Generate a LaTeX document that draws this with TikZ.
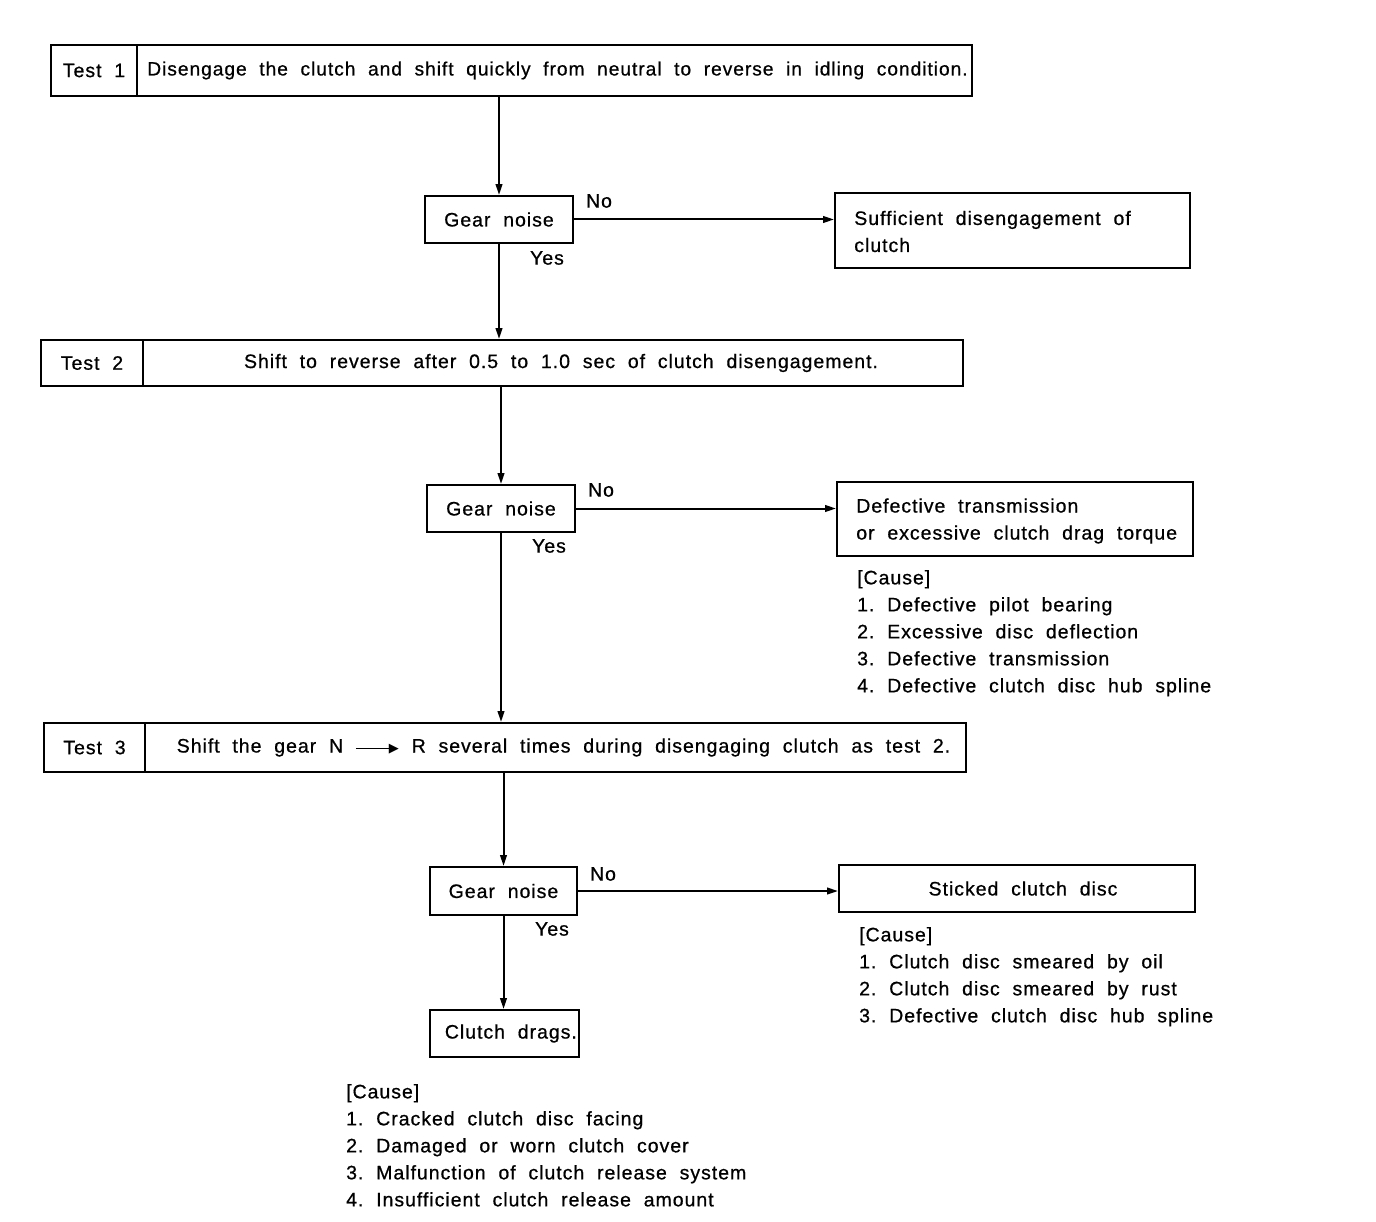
\documentclass[tikz,border=0pt]{standalone}
\usepackage{fontspec}
\setmainfont{Liberation Sans}[LetterSpace=5,WordSpace=2.0,FakeBold=0.7]
\newfontfamily\dejavu{DejaVu Sans}
\usetikzlibrary{arrows.meta}
\begin{document}
\begin{tikzpicture}[x=1pt,y=-1pt,
  every node/.style={font=\fontsize{19.5}{27}\selectfont},
  bx/.style={draw,line width=1.8pt,inner sep=0pt,rectangle},
  arr/.style={line width=2pt,-{Triangle[length=11pt,width=6.5pt]}},
  lbl/.style={inner sep=0pt},
  intext/.style={inner sep=0pt,anchor=west,align=left},
  cause/.style={inner sep=0pt,anchor=north west,align=left}]
\useasboundingbox (0,0) rectangle (1376,1222);
% Test 1
\node[bx,minimum width=86pt,minimum height=51pt] (t1l) at (94,70.5) {Test\ 1};
\node[bx,minimum width=835pt,minimum height=51pt] (t1r) at (554.5,70.5) {};
\node[lbl,font=\fontsize{19.2}{27}\selectfont] (t1t) at ([xshift=3pt]t1r.center) {Disengage the clutch and shift quickly from neutral to reverse in idling condition.};
% Gear noise 1
\node[bx,minimum width=148pt,minimum height=47pt] (g1) at (499,219.5) {Gear noise};
\node[bx,minimum width=355pt,minimum height=75pt] (r1) at (1012.5,230.5) {};
\node[intext] (r1t) at ([xshift=20pt,yshift=-1pt]r1.west) {Sufficient disengagement of\\clutch};
\draw[arr] (t1r.south -| g1.north) -- (g1.north);
\draw[arr] (g1.east) -- (g1.east -| r1.west);
\node[lbl] (no1) at (599,201) {No};
\node[lbl] (yes1) at (547,258) {Yes};
% Test 2
\node[bx,minimum width=102pt,minimum height=46pt] (t2l) at (92,363) {Test\ 2};
\node[bx,minimum width=820pt,minimum height=46pt] (t2r) at (553,363) {\hspace{16pt}Shift to reverse after 0.5 to 1.0 sec of clutch disengagement.};
\draw[arr] (g1.south) -- (g1.south |- t2r.north);
% Gear noise 2
\node[bx,minimum width=148pt,minimum height=47pt] (g2) at (501,508.5) {Gear noise};
\node[bx,minimum width=356pt,minimum height=74pt] (r2) at (1015,519) {};
\node[intext] (r2t) at ([xshift=20pt,yshift=-2pt]r2.west) {Defective transmission\\or excessive clutch drag torque};
\draw[arr] (t2r.south -| g2.north) -- (g2.north);
\draw[arr] (g2.east) -- (g2.east -| r2.west);
\node[lbl] (no2) at (601,490) {No};
\node[lbl] (yes2) at (549,546) {Yes};
\node[cause] (c2) at (857,570) {[Cause]\\1.\ Defective pilot bearing\\2.\ Excessive disc deflection\\3.\ Defective transmission\\4.\ Defective clutch disc hub spline};
% Test 3
\node[bx,minimum width=101pt,minimum height=49pt] (t3l) at (94.5,747.5) {Test\ 3};
\node[bx,minimum width=821pt,minimum height=49pt] (t3r) at (555.5,747.5) {\hspace{16pt}Shift the gear N \raisebox{0.3ex}{\rule{36pt}{1.5pt}}\kern-3pt\raisebox{0.05ex}{\fontsize{13}{13}\dejavu ▶}\ R several times during disengaging clutch as test 2.};
\draw[arr] (g2.south) -- (g2.south |- t3r.north);
% Gear noise 3
\node[bx,minimum width=147pt,minimum height=48pt] (g3) at (503.5,891) {Gear noise};
\node[bx,minimum width=356pt,minimum height=47pt] (r3) at (1017,888.5) {\hspace{12pt}Sticked clutch disc};
\draw[arr] (t3r.south -| g3.north) -- (g3.north);
\draw[arr] (g3.east) -- (g3.east -| r3.west);
\node[lbl] (no3) at (603,874) {No};
\node[lbl] (yes3) at (552,929) {Yes};
\node[cause] (c3) at (859,927) {[Cause]\\1.\ Clutch disc smeared by oil\\2.\ Clutch disc smeared by rust\\3.\ Defective clutch disc hub spline};
% Clutch drags
\node[bx,minimum width=149pt,minimum height=47pt] (cd) at (504.5,1033.5) {\ Clutch drags.};
\draw[arr] (g3.south) -- (g3.south |- cd.north);
\node[cause] (c4) at (346,1084) {[Cause]\\1.\ Cracked clutch disc facing\\2.\ Damaged or worn clutch cover\\3.\ Malfunction of clutch release system\\4.\ Insufficient clutch release amount};
\end{tikzpicture}
\end{document}
